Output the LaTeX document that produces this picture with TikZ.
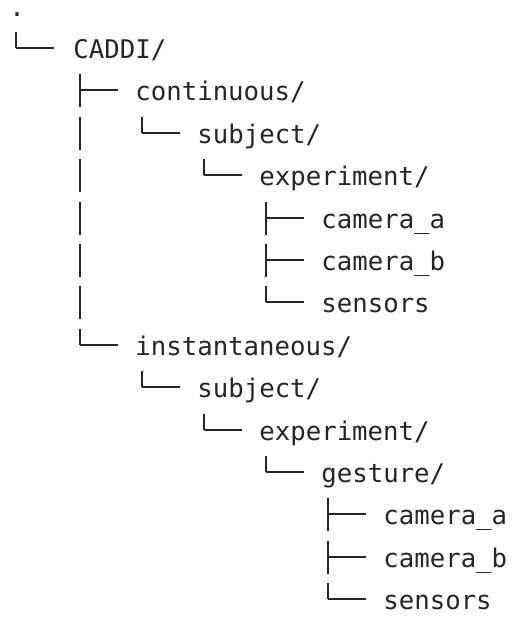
\documentclass[tikz,border=0pt]{standalone}
\usepackage{fontspec}
\usetikzlibrary{calc}
\newfontfamily\dirfont{DejaVu Sans Mono}
\definecolor{treeink}{HTML}{262626}
\tikzstyle{entry}=[anchor=base west,inner sep=0pt,text=treeink,font={\dirfont\fontsize{12.85}{15}\selectfont}]
\tikzstyle{edge} = [draw,line width=0.95pt,treeink]
\tikzstyle{stem} = [edge,dash pattern=on 16.5pt off 4.7pt]

\begin{document}
\begin{tikzpicture}[x=0.5pt,y=-0.5pt]
    \useasboundingbox (0,0) rectangle (512,617);
    % dossiers et fichiers
    \foreach \pos/\name/\txt in {{(9,16)/root/.}, {(73,58.5)/caddi/{CADDI/}},
        {(135,100.9)/cont/{continuous/}}, {(197,143.3)/csubj/{subject/}},
        {(259,185.7)/cexp/{experiment/}}, {(321,228.1)/ca/camera\_a},
        {(321,270.5)/cb/camera\_b}, {(321,312.9)/cs/sensors},
        {(135,355.3)/inst/{instantaneous/}}, {(197,397.7)/isubj/{subject/}},
        {(259,440.1)/iexp/{experiment/}}, {(321,482.5)/gest/{gesture/}},
        {(383,524.9)/ga/camera\_a}, {(383,567.3)/gb/camera\_b},
        {(383,609.7)/gs/sensors}}
        \node[entry] (\name) at \pos {\txt};
    % traits verticaux
    \foreach \parent/\first/\last in {root/caddi/caddi, caddi/cont/inst, cont/csubj/csubj,
        csubj/cexp/cexp, cexp/ca/cs, inst/isubj/isubj, isubj/iexp/iexp, iexp/gest/gest, gest/ga/gs}
        \path[stem] ($(\parent.base west |- \first.base)+(7,-26.5)$) -- ($(\parent.base west |- \last.base)+(7,-10.5)$);
    % traits horizontaux
    \foreach \parent/\child in {root/caddi, caddi/cont, caddi/inst, cont/csubj, csubj/cexp,
        cexp/ca, cexp/cb, cexp/cs, inst/isubj, isubj/iexp, iexp/gest, gest/ga, gest/gb, gest/gs}
        \path[edge] ($(\parent.base west |- \child.base)+(7,-10.5)$) -- ++(38,0);
\end{tikzpicture}
\end{document}
